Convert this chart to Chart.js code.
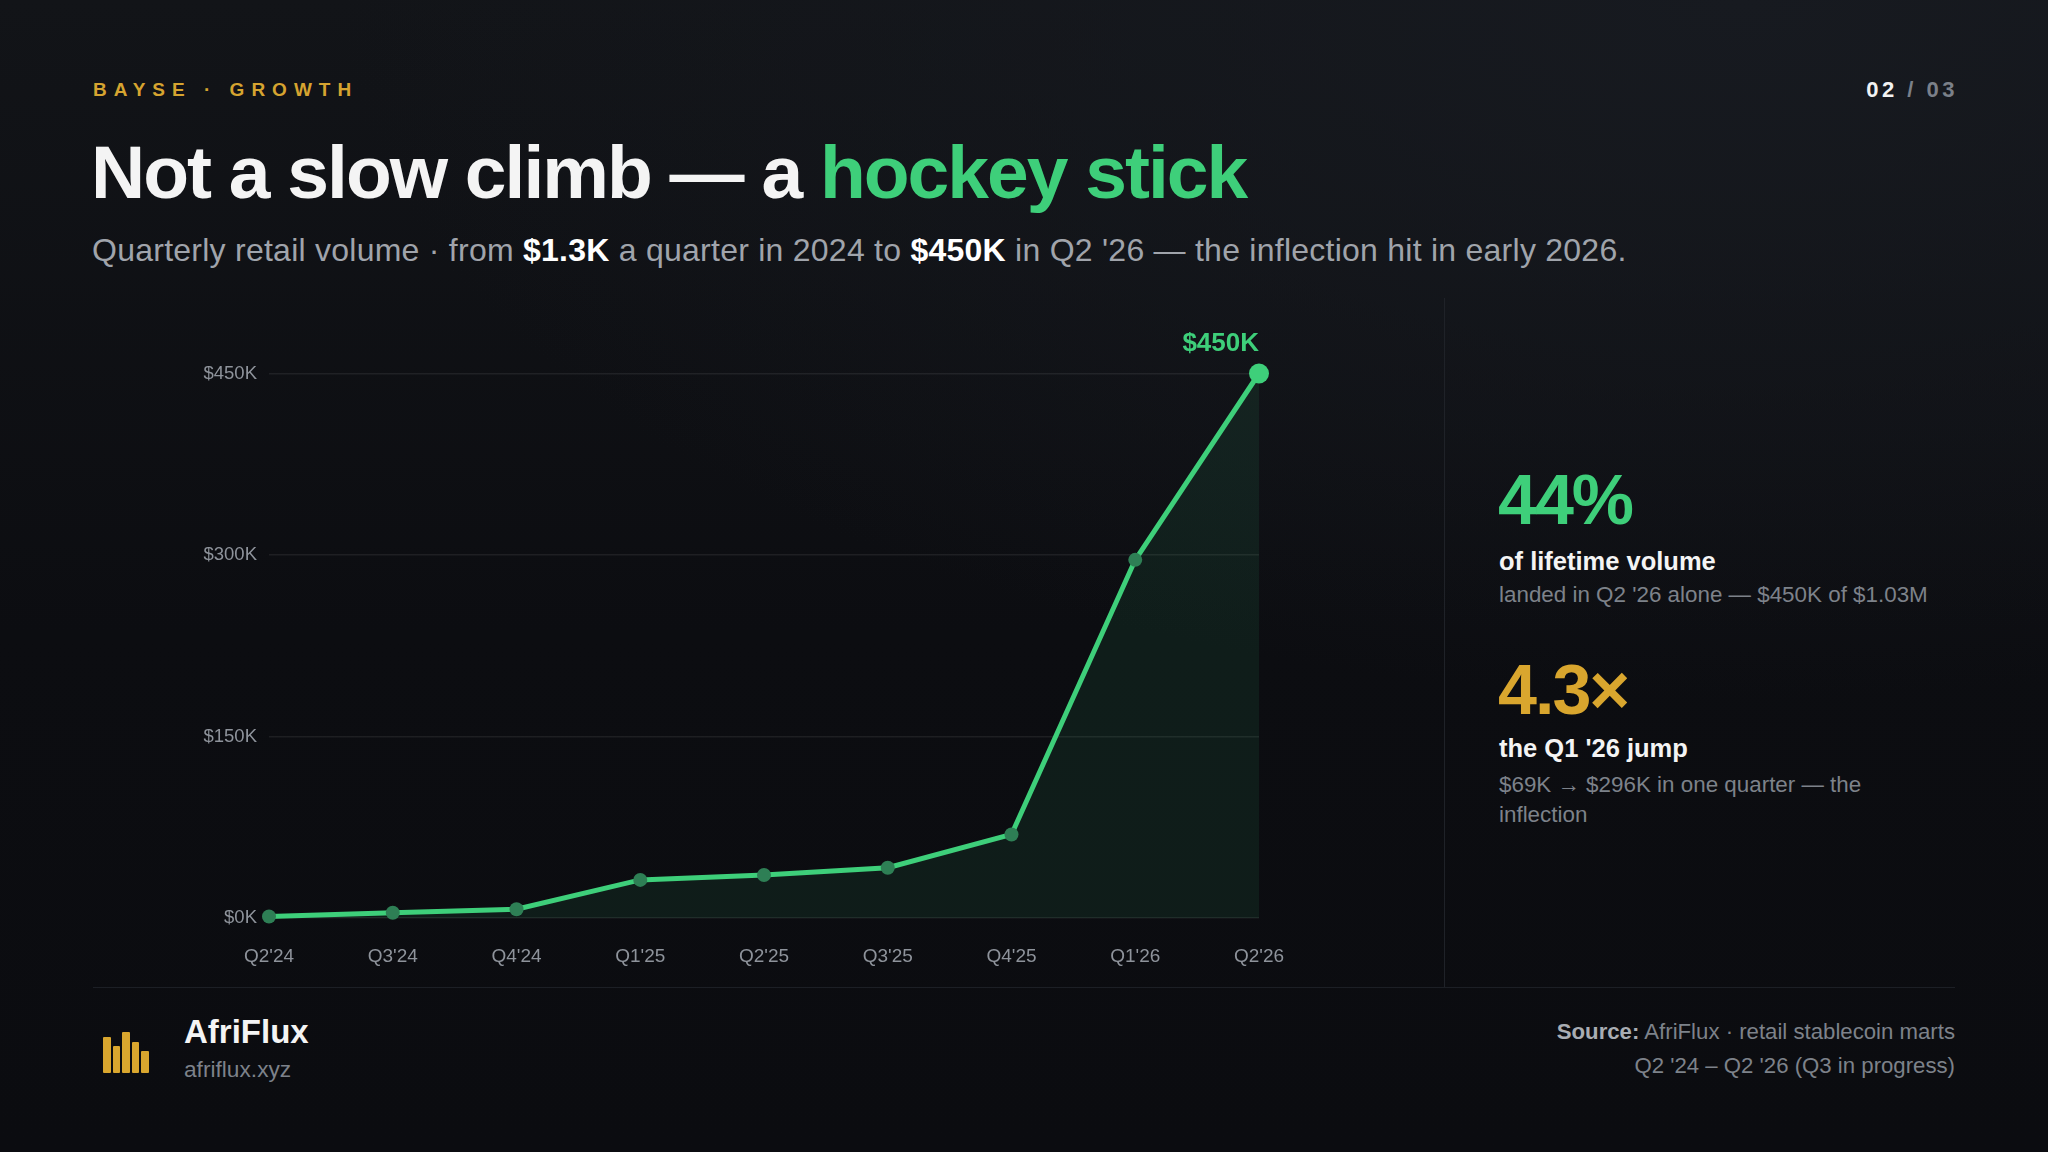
<!DOCTYPE html>
<html><head><meta charset="utf-8">
<script src="https://cdn.jsdelivr.net/npm/chart.js@4.4.1/dist/chart.umd.min.js"></script>
<style>
html,body{margin:0;padding:0;}
body{width:2048px;height:1152px;overflow:hidden;position:relative;font-family:"Liberation Sans",Arial,sans-serif;
background:radial-gradient(ellipse 1400px 700px at 85% 0%, #171a20 0%, rgba(23,26,32,0) 100%), linear-gradient(180deg,#121418 0%,#0c0d11 55%,#0b0c10 100%);}
.t{position:absolute;line-height:1;white-space:nowrap;}
#kicker{left:93px;top:80px;font-size:19px;font-weight:700;letter-spacing:7px;color:#d6a430;}
#page{right:90px;top:79px;font-size:22px;font-weight:700;letter-spacing:3.5px;color:#f2f2f2;}
#page span{color:#7b8089;}
#title{left:91px;top:135px;font-size:75px;font-weight:700;color:#f4f4f4;letter-spacing:-2px;}
#title span{color:#3ecf7a;}
#sub{left:92px;top:234px;font-size:32px;color:#a0a4ab;letter-spacing:0.25px;}
#sub b{color:#ffffff;}
#vdiv{position:absolute;left:1444px;top:298px;width:1px;height:689px;background:#1f2228;}
#hdiv{position:absolute;left:93px;top:987px;width:1862px;height:1px;background:#1c1f25;}
#chartwrap{position:absolute;left:93px;top:298px;width:1351px;height:689px;}
.big{font-size:70px;font-weight:700;letter-spacing:-2px;}
#k1{left:1498px;top:465px;color:#3ecf7a;}
#k1l{left:1499px;top:549px;font-size:25.5px;font-weight:700;color:#f4f4f4;}
#k1s{left:1499px;top:584px;font-size:22.4px;color:#7d828a;}
#k2{left:1498px;top:655px;color:#d9a62e;}
#k2l{left:1499px;top:736px;font-size:25.5px;font-weight:700;color:#f4f4f4;}
#k2s{left:1499px;top:770px;font-size:22.4px;color:#7d828a;line-height:30px;white-space:normal;width:470px;}
#brand{left:184px;top:1015px;font-size:33px;font-weight:700;color:#f4f4f4;}
#url{left:184px;top:1058px;font-size:22.7px;color:#7d828a;}
#src{right:93px;top:1015px;font-size:22.2px;color:#7d828a;line-height:34px;text-align:right;}
#src b{color:#a9adb3;}
.bar{position:absolute;background:#d9a62e;width:7.5px;bottom:79px;border-radius:1px;}
</style></head>
<body>
<div class="t" id="kicker">BAYSE · GROWTH</div>
<div class="t" id="page">02 <span>/ 03</span></div>
<div class="t" id="title">Not a slow climb — a <span>hockey stick</span></div>
<div class="t" id="sub">Quarterly retail volume · from <b>$1.3K</b> a quarter in 2024 to <b>$450K</b> in Q2 '26 — the inflection hit in early 2026.</div>
<div id="vdiv"></div>
<div id="chartwrap"><canvas id="c" width="1351" height="689"></canvas></div>
<div class="t big" id="k1">44%</div>
<div class="t" id="k1l">of lifetime volume</div>
<div class="t" id="k1s">landed in Q2 '26 alone — $450K of $1.03M</div>
<div class="t big" id="k2">4.3×</div>
<div class="t" id="k2l">the Q1 '26 jump</div>
<div class="t" id="k2s">$69K → $296K in one quarter — the<br>inflection</div>
<div id="hdiv"></div>
<div class="bar" style="left:103px;height:36px"></div>
<div class="bar" style="left:112.5px;height:27px"></div>
<div class="bar" style="left:122px;height:41px"></div>
<div class="bar" style="left:131.5px;height:31px"></div>
<div class="bar" style="left:141px;height:22px"></div>
<div class="t" id="brand">AfriFlux</div>
<div class="t" id="url">afriflux.xyz</div>
<div class="t" id="src"><b>Source:</b> AfriFlux · retail stablecoin marts<br>Q2 '24 – Q2 '26 (Q3 in progress)</div>
<script>
const categories = ["Q2'24","Q3'24","Q4'24","Q1'25","Q2'25","Q3'25","Q4'25","Q1'26","Q2'26"];
const volumeK = [1.3, 4.3, 7.2, 31.5, 35.5, 41.5, 69, 296, 450];
const yTicks = [0, 150, 300, 450];
const peakLabel = "$450K";

const GREEN = "#3ecf7a";
const lastIdx = volumeK.length - 1;

const labelPlugin = {
  id: 'peakLabel',
  afterDatasetsDraw(chart) {
    const meta = chart.getDatasetMeta(0);
    const pt = meta.data[lastIdx];
    const ctx = chart.ctx;
    ctx.save();
    ctx.font = "700 26px 'Liberation Sans', Arial, sans-serif";
    ctx.fillStyle = GREEN;
    ctx.textAlign = 'right';
    ctx.textBaseline = 'alphabetic';
    ctx.fillText(peakLabel, pt.x, pt.y - 23);
    ctx.restore();
  }
};

new Chart(document.getElementById('c'), {
  type: 'line',
  data: {
    labels: categories,
    datasets: [{
      data: volumeK,
      borderColor: GREEN,
      borderWidth: 5,
      fill: 'origin',
      backgroundColor: 'rgba(62,207,122,0.085)',
      tension: 0,
      clip: false,
      pointRadius: volumeK.map((v,i)=> i===lastIdx ? 10 : 7),
      pointBackgroundColor: volumeK.map((v,i)=> i===lastIdx ? GREEN : '#2e7f55'),
      pointBorderWidth: 0,
      pointHoverRadius: 0
    }]
  },
  options: {
    responsive: false,
    animation: false,
    devicePixelRatio: 1,
    layout: { padding: { top: 75.5, right: 185, left: 0, bottom: 0 } },
    plugins: { legend: { display: false }, tooltip: { enabled: false } },
    scales: {
      x: {
        offset: false,
        grid: { display: false, drawTicks: false },
        border: { display: false },
        ticks: { color: '#8e939b', font: { family: "'Liberation Sans', Arial, sans-serif", size: 19 }, padding: 27, maxRotation: 0 },
        afterFit(s) { s.height = 69; }
      },
      y: {
        min: 0, max: 450,
        afterBuildTicks(s) { s.ticks = yTicks.map(v => ({ value: v })); },
        grid: { color: 'rgba(255,255,255,0.075)', lineWidth: 1.5, drawTicks: false },
        border: { display: false },
        ticks: { color: '#8e939b', font: { family: "'Liberation Sans', Arial, sans-serif", size: 18.5 }, padding: 12,
                 callback: v => '$' + v + 'K' },
        afterFit(s) { s.width = 176; }
      }
    }
  },
  plugins: [labelPlugin]
});
</script>
</body></html>
